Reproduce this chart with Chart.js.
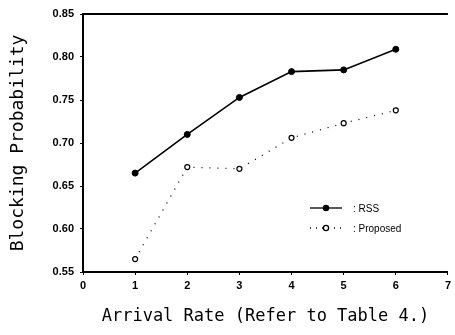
<!DOCTYPE html>
<html>
<head>
<meta charset="utf-8">
<script src="https://cdn.jsdelivr.net/npm/chart.js@4/dist/chart.umd.min.js"></script>
<style>
  html, body { margin: 0; padding: 0; background: #fff; }
  #wrap { width: 455px; height: 335px; }
</style>
</head>
<body>
<div id="wrap"><canvas id="chart" width="455" height="335"></canvas></div>
<script>
// Data
const arrivalRates = [1, 2, 3, 4, 5, 6];
const rssValues = [0.665, 0.710, 0.753, 0.783, 0.785, 0.809];
const proposedValues = [0.565, 0.672, 0.670, 0.706, 0.723, 0.738];
const yTickLabels = ['0.55', '0.60', '0.65', '0.70', '0.75', '0.80', '0.85'];

const tickFont = { family: 'Liberation Sans, Arial', size: 11, weight: 'bold' };
const xTitleFont = { family: 'DejaVu Sans Mono, monospace', size: 17 };
const yTitleFont = { family: 'DejaVu Sans Mono, monospace', size: 18 };

// legend drawn inside the plot area
const insideLegend = {
  id: 'insideLegend',
  afterDraw(chart) {
    const ctx = chart.ctx;
    const items = [
      { label: ': RSS', dash: [], fill: '#000', y: 208 },
      { label: ': Proposed', dash: [1, 5], fill: '#fff', y: 228 }
    ];
    ctx.save();
    items.forEach(it => {
      ctx.strokeStyle = '#000';
      ctx.lineWidth = 1.3;
      ctx.setLineDash(it.dash);
      ctx.beginPath();
      ctx.moveTo(310, it.y);
      ctx.lineTo(342, it.y);
      ctx.stroke();
      ctx.setLineDash([]);
      ctx.beginPath();
      ctx.arc(326, it.y, 2.6, 0, Math.PI * 2);
      ctx.fillStyle = it.fill;
      ctx.fill();
      ctx.stroke();
      ctx.fillStyle = '#000';
      ctx.font = '10px Liberation Sans, Arial';
      ctx.textBaseline = 'middle';
      ctx.fillText(it.label, 353, it.y + 1);
    });
    ctx.restore();
  }
};

new Chart(document.getElementById('chart').getContext('2d'), {
  type: 'line',
  data: {
    datasets: [{
      label: 'RSS',
      data: arrivalRates.map((x, i) => ({ x: x, y: rssValues[i] })),
      borderColor: '#000',
      backgroundColor: '#000',
      borderWidth: 1.6,
      pointRadius: 3,
      pointBorderWidth: 1,
      tension: 0
    }, {
      label: 'Proposed',
      data: arrivalRates.map((x, i) => ({ x: x, y: proposedValues[i] })),
      borderColor: '#000',
      backgroundColor: '#fff',
      borderWidth: 1.3,
      borderDash: [1, 7],
      pointRadius: 2.5,
      pointBorderWidth: 1.2,
      tension: 0
    }]
  },
  options: {
    responsive: false,
    animation: false,
    layout: { padding: { left: 4, right: 4, top: 14, bottom: 4 } },
    plugins: {
      legend: { display: false },
      tooltip: { enabled: false }
    },
    scales: {
      x: {
        type: 'linear',
        min: 0,
        max: 7,
        ticks: { stepSize: 1, color: '#000', font: tickFont, padding: 4 },
        grid: { drawOnChartArea: false, tickLength: 3, color: '#000' },
        border: { color: '#000', width: 2 },
        title: { display: true, text: 'Arrival Rate (Refer to Table 4.)', color: '#000', font: xTitleFont, padding: { top: 15 } },
        afterFit(scale) { scale.height = 59; }
      },
      y: {
        min: 0.55,
        max: 0.85,
        ticks: {
          stepSize: 0.05,
          color: '#000',
          font: tickFont,
          padding: 6,
          callback: (v, i) => yTickLabels[i]
        },
        grid: { drawOnChartArea: false, tickLength: 3, color: '#000' },
        border: { color: '#000', width: 2 },
        title: { display: true, text: 'Blocking Probability', color: '#000', font: yTitleFont, padding: { bottom: 6 } },
        afterFit(scale) { scale.width = 79; }
      }
    }
  },
  plugins: [insideLegend, {
    id: 'topBorder',
    afterDraw(chart) {
      const a = chart.chartArea, ctx = chart.ctx;
      ctx.save();
      ctx.strokeStyle = '#000';
      ctx.lineWidth = 2;
      ctx.beginPath();
      ctx.moveTo(a.left, a.top);
      ctx.lineTo(a.right, a.top);
      ctx.stroke();
      ctx.restore();
    }
  }]
});
</script>
</body>
</html>
